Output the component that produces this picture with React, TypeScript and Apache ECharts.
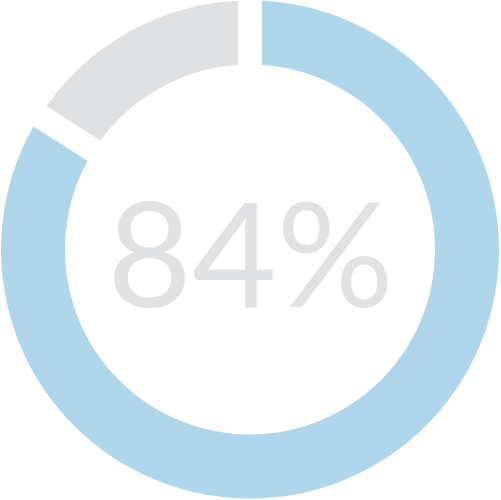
import { useEffect, useRef } from 'react'
import * as echarts from 'echarts'

const labels = ['done', 'rest']
const values = [84, 16]
const colors = ['#b0d6eb', '#e0e1e3']
const centerText = '84%'

export default function App() {
  const ref = useRef<HTMLDivElement>(null)

  useEffect(() => {
    if (!ref.current) return
    const chart = echarts.init(ref.current, undefined, { renderer: 'svg' })
    chart.setOption({
      animation: false,
      backgroundColor: '#fff',
      series: [
        {
          type: 'pie',
          center: [250, 249.5],
          radius: [173, 261],
          startAngle: 90,
          clockwise: true,
          silent: true,
          label: { show: false },
          labelLine: { show: false },
          itemStyle: { borderColor: '#fff', borderWidth: 24 },
          data: labels.map((name, i) => ({ name, value: values[i], itemStyle: { color: colors[i] } })),
        },
      ],
      graphic: [
        {
          type: 'text',
          left: 'center',
          top: 'middle',
          style: {
            text: centerText,
            fontFamily: 'Lato',
            fontWeight: 400,
            fontSize: 146,
            fill: '#e1e2e4',
          },
        },
      ],
    })
    return () => chart.dispose()
  }, [])

  return <div ref={ref} style={{ position: 'absolute', left: 0, top: 0, width: 501, height: 500 }} />
}
